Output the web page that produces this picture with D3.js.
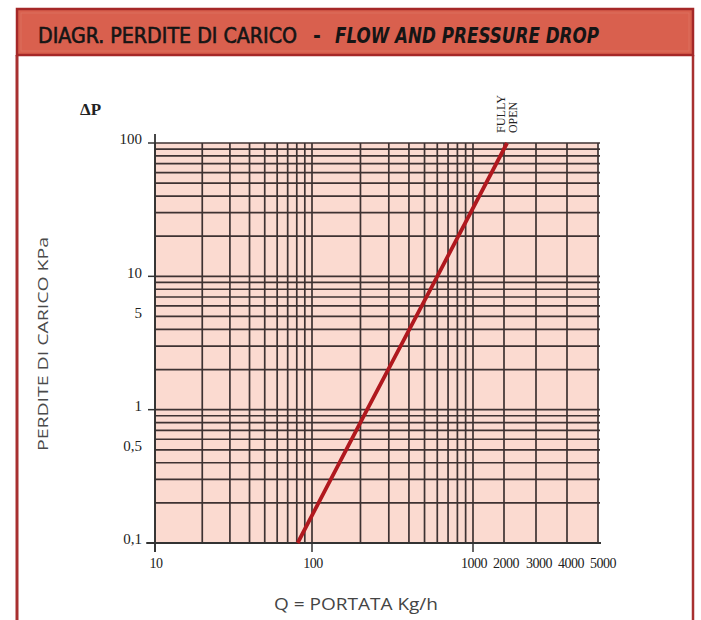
<!DOCTYPE html>
<html>
<head>
<meta charset="utf-8">
<script src="https://cdn.jsdelivr.net/npm/d3@7/dist/d3.min.js"></script>
<style>
  html, body { margin: 0; padding: 0; background: #fff; }
  svg { display: block; }
</style>
</head>
<body>
<svg id="chart" width="701" height="620"></svg>
<script>
// ---- data ----
const flowBreaks = [10, 100, 1000, 2000, 3000, 4000, 5000];   // x-axis breakpoints (Kg/h)
const xTickLabels = ["10", "100", "1000", "2000", "3000", "4000", "5000"];
const xMajorTicks = [10, 100, 1000];
const yTickValues = [100, 10, 5, 1, 0.5, 0.1];
const yTickLabels = ["100", "10", "5", "1", "0,5", "0,1"];
const yMajorTicks = [100, 10, 1, 0.1];
const lineFlow = [81, 220, 600, 2080];      // Q (Kg/h)
const lineDrop = [0.1, 1, 10, 100];         // ΔP (kPa)

// ---- layout ----
const svg = d3.select("#chart");
const pLeft = 155, pTop = 143, pBottom = 543;
const breakPx = [155, 312, 473, 504, 536, 567, 598];

const x = d3.scaleLog().domain(flowBreaks).range(breakPx);
const y = d3.scaleLog().domain([0.1, 100]).range([pBottom, pTop]);
const pRight = x(5000);

// frame
svg.append("line").attr("x1", 17).attr("x2", 17).attr("y1", 55).attr("y2", 620)
  .attr("stroke", "#a83030").attr("stroke-width", 3);
svg.append("line").attr("x1", 693).attr("x2", 693).attr("y1", 55).attr("y2", 620)
  .attr("stroke", "#a83030").attr("stroke-width", 2.5);

// title bar
svg.append("rect").attr("x", 17).attr("y", 9).attr("width", 676).attr("height", 46)
  .attr("fill", "#d9604e").attr("stroke", "#a52828").attr("stroke-width", 2.5);
svg.append("rect").attr("x", 21).attr("y", 13).attr("width", 668).attr("height", 38)
  .attr("fill", "none").attr("stroke", "#e07a68").attr("stroke-width", 1).attr("opacity", 0.6);

const tf = "'DejaVu Sans Condensed', 'DejaVu Sans', sans-serif";
svg.append("text").attr("x", 38).attr("y", 43).attr("font-family", tf)
  .attr("font-size", 21).attr("fill", "#151515").attr("stroke", "#151515").attr("stroke-width", 0.6)
  .attr("textLength", 259).attr("lengthAdjust", "spacingAndGlyphs")
  .text("DIAGR. PERDITE DI CARICO");
svg.append("text").attr("x", 313).attr("y", 43).attr("font-family", tf)
  .attr("font-size", 21).attr("font-weight", "bold").attr("fill", "#151515").text("-");
svg.append("text").attr("x", 335).attr("y", 43).attr("font-family", tf)
  .attr("font-size", 21).attr("fill", "#151515").attr("font-style", "italic")
  .attr("font-weight", "bold")
  .attr("textLength", 264).attr("lengthAdjust", "spacingAndGlyphs")
  .text("FLOW AND PRESSURE DROP");

// plot background
svg.append("rect").attr("x", pLeft).attr("y", pTop)
  .attr("width", pRight - pLeft).attr("height", pBottom - pTop)
  .attr("fill", "#fbdad0");

const gridColor = "#3e3232";
// horizontal grid
svg.append("g").selectAll("line").data(y.ticks()).join("line")
  .attr("x1", pLeft).attr("x2", pRight + 2)
  .attr("y1", d => y(d)).attr("y2", d => y(d))
  .attr("stroke", gridColor).attr("stroke-width", 1.7);
// vertical grid
svg.append("g").selectAll("line").data(x.ticks()).join("line")
  .attr("x1", d => x(d)).attr("x2", d => x(d))
  .attr("y1", pTop).attr("y2", pBottom)
  .attr("stroke", gridColor).attr("stroke-width", 1.7);

// axes lines
svg.append("line").attr("x1", pLeft).attr("x2", pLeft).attr("y1", pTop - 9).attr("y2", pBottom + 9)
  .attr("stroke", "#333").attr("stroke-width", 1.8);
svg.append("line").attr("x1", pLeft - 8).attr("x2", pRight + 3).attr("y1", pBottom).attr("y2", pBottom)
  .attr("stroke", "#333").attr("stroke-width", 1.8);

// major ticks
svg.append("g").selectAll("line").data(yMajorTicks).join("line")
  .attr("x1", d => pLeft - (d === 0.1 ? 9 : 7)).attr("x2", pLeft).attr("y1", d => y(d)).attr("y2", d => y(d))
  .attr("stroke", "#333").attr("stroke-width", 1.5);
svg.append("g").selectAll("line").data(xMajorTicks).join("line")
  .attr("x1", d => x(d)).attr("x2", d => x(d)).attr("y1", pBottom).attr("y2", pBottom + 9)
  .attr("stroke", "#333").attr("stroke-width", 1.5);

// tick labels
const sf = "'Liberation Serif', 'DejaVu Serif', serif";
svg.append("g").selectAll("text").data(yTickValues).join("text")
  .attr("x", pLeft - 13).attr("y", d => y(d) - 4)
  .attr("dy", "0.35em").attr("text-anchor", "end")
  .attr("font-family", sf).attr("font-size", 15).attr("fill", "#222")
  .text((d, i) => yTickLabels[i]);
svg.append("g").selectAll("text").data(flowBreaks).join("text")
  .attr("x", (d, i) => x(d) + (i > 2 ? i - 1 : 1)).attr("y", 568)
  .attr("text-anchor", "middle")
  .attr("font-family", sf).attr("font-size", 14).attr("fill", "#222")
  .attr("letter-spacing", -0.5)
  .text((d, i) => xTickLabels[i]);

// ΔP label
svg.append("text").attr("x", 80).attr("y", 115)
  .attr("font-family", sf).attr("font-size", 17).attr("font-weight", "bold").attr("fill", "#222")
  .text("ΔP");

// axis titles
const gf = "'Open Sans', 'DejaVu Sans', sans-serif";
svg.append("text")
  .attr("transform", "translate(48,344) rotate(-90)")
  .attr("text-anchor", "middle")
  .attr("font-family", gf).attr("font-size", 14).attr("fill", "#4a4a4a")
  .attr("textLength", 214).attr("lengthAdjust", "spacingAndGlyphs")
  .text("PERDITE DI CARICO KPa");
svg.append("text")
  .attr("x", 356).attr("y", 610).attr("text-anchor", "middle")
  .attr("font-family", gf).attr("font-size", 16).attr("fill", "#444")
  .attr("textLength", 164).attr("lengthAdjust", "spacingAndGlyphs")
  .text("Q = PORTATA Kg/h");

// pressure drop line
const pts = lineFlow.map((q, i) => [q, lineDrop[i]]);
svg.append("path")
  .attr("d", d3.line().x(d => x(d[0])).y(d => y(d[1]))(pts))
  .attr("fill", "none").attr("stroke", "#b0181e").attr("stroke-width", 3.8);

// FULLY OPEN label
const topPt = pts[pts.length - 1];
const lab = svg.append("text")
  .attr("transform", `translate(${x(topPt[0]) - 3},${y(topPt[1]) - 10}) rotate(-90)`)
  .attr("font-family", sf).attr("font-size", 12).attr("fill", "#222");
lab.append("tspan").attr("x", 0).attr("y", 1).attr("textLength", 38).attr("lengthAdjust", "spacingAndGlyphs").text("FULLY");
lab.append("tspan").attr("x", 0).attr("y", 13).attr("textLength", 31).attr("lengthAdjust", "spacingAndGlyphs").text("OPEN");
</script>
</body>
</html>
